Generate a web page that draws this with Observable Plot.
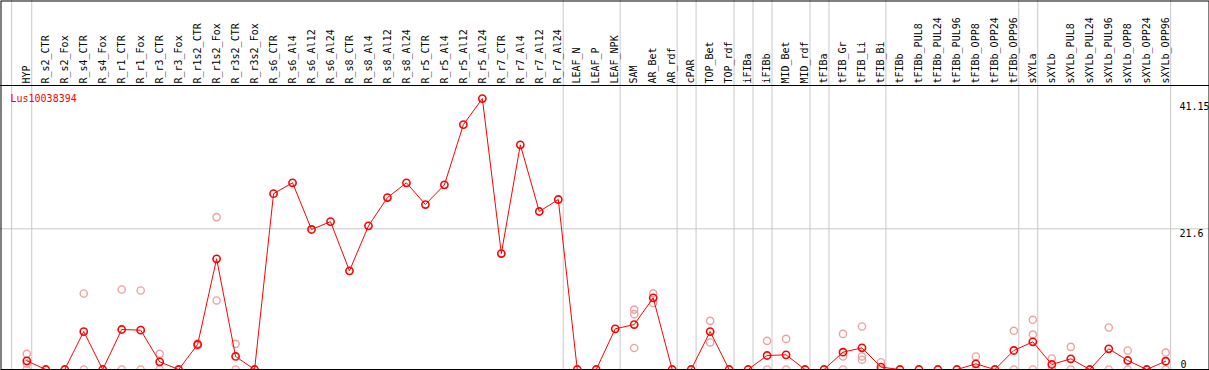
<!DOCTYPE html>
<html>
<head>
<meta charset="utf-8">
<script src="https://cdn.jsdelivr.net/npm/d3@7"></script>
<script src="https://cdn.jsdelivr.net/npm/@observablehq/plot@0.6"></script>
<style>
  html, body { margin: 0; padding: 0; background: #fff; }
  svg { display: block; }
</style>
</head>
<body>
<div id="chart"></div>
<script>
const title = "Lus10038394";

const categories = [
  "HYP","R_s2_CTR","R_s2_Fox","R_s4_CTR","R_s4_Fox","R_r1_CTR","R_r1_Fox","R_r3_CTR","R_r3_Fox",
  "R_r1s2_CTR","R_r1s2_Fox","R_r3s2_CTR","R_r3s2_Fox","R_s6_CTR","R_s6_Al4","R_s6_Al12","R_s6_Al24",
  "R_s8_CTR","R_s8_Al4","R_s8_Al12","R_s8_Al24","R_r5_CTR","R_r5_Al4","R_r5_Al12","R_r5_Al24",
  "R_r7_CTR","R_r7_Al4","R_r7_Al12","R_r7_Al24","LEAF_N","LEAF_P","LEAF_NPK","SAM","AR_Bet","AR_rdf",
  "cPAR","TOP_Bet","TOP_rdf","iFIBa","iFIBb","MID_Bet","MID_rdf","tFIBa","tFIB_Gr","tFIB_Li","tFIB_Bi",
  "tFIBb","tFIBb_PUL8","tFIBb_PUL24","tFIBb_PUL96","tFIBb_OPP8","tFIBb_OPP24","tFIBb_OPP96",
  "sXYLa","sXYLb","sXYLb_PUL8","sXYLb_PUL24","sXYLb_PUL96","sXYLb_OPP8","sXYLb_OPP24","sXYLb_OPP96"
];

const means = [
  1.33, 0, 0, 5.83, 0, 6.14, 6.04, 1.18, 0,
  3.84, 17.0, 2.0, 0, 27.0, 28.67, 21.5, 22.7,
  15.15, 22.06, 26.4, 28.67, 25.33, 28.35, 37.6, 41.6,
  17.8, 34.5, 24.26, 26.1, 0, 0, 6.25, 6.9, 11.0, 0,
  0, 5.83, 0, 0, 2.15, 2.25, 0, 0, 2.66, 3.33, 0.36,
  0, 0, 0, 0, 0.87, 0, 2.92,
  4.25, 0.77, 1.64, 0, 3.18, 1.38, 0, 1.27
];

const replicates = [
  [2.4, 0.9, 0], [], [], [11.67, 0], [], [12.28, 0], [12.13, 0], [2.4, 0], [],
  [3.7, 4.0], [23.4, 10.6], [3.94, 0], [], [], [], [], [],
  [], [], [], [], [], [], [], [],
  [], [], [], [], [], [], [], [9.2, 8.5, 3.3], [11.7, 10.2], [],
  [], [7.47, 4.15], [], [], [4.4, 0], [4.7, 0], [], [], [5.47, 2.0, 0], [6.6, 2.0, 1.5], [1.12, 0],
  [], [], [], [], [2.0, 0], [], [5.94, 0],
  [7.63, 5.37, 0], [1.69, 0], [3.48, 0], [], [6.45, 0], [2.92, 0], [], [2.6, 0]
];

// last category of each group (vertical separators follow these)
const groupEnds = ["HYP","R_r7_Al24","LEAF_NPK","AR_rdf","cPAR","TOP_rdf","iFIBa","iFIBb",
  "MID_rdf","tFIBa","tFIB_Bi","tFIBb_OPP96","sXYLa","sXYLb_OPP96"];

const yTicks = [41.15, 21.6];
const yZeroTick = [0];
const gridY = [21.6];

const meanData = means.map((v, i) => ({i, v}));
const repData = replicates.flatMap((arr, i) => arr.map(v => ({i, v})));
const seps = [-0.8, ...groupEnds.map(n => categories.indexOf(n) + 0.26)];

const font = "DejaVu Sans Mono";

const chart = Plot.plot({
  width: 1209,
  height: 370,
  marginTop: 85,
  marginBottom: 1,
  marginLeft: 0,
  marginRight: 0,
  style: {fontFamily: font, fontSize: "10px", background: "#fff", color: "#000"},
  x: {type: "linear", domain: [0, categories.length - 1], range: [26.3, 1165.2], label: null},
  y: {type: "linear", domain: [0, 41.15], range: [369, 101], label: null},
  marks: [
    Plot.ruleX(seps, {stroke: "#c8c8c8", strokeWidth: 1, insetTop: -85, insetBottom: -1}),
    Plot.ruleY(gridY, {stroke: "#c8c8c8", strokeWidth: 1}),
    Plot.dot(repData, {x: "i", y: "v", r: 3.6, stroke: "#f0a0a0", strokeWidth: 1.4, fill: "none"}),
    Plot.line(meanData, {x: "i", y: "v", stroke: "#ff0000", strokeWidth: 1}),
    Plot.dot(meanData, {x: "i", y: "v", r: 3.6, stroke: "#ff0000", strokeWidth: 1.6, fill: "none"}),
    Plot.frame({stroke: "#000", insetTop: -84.5, insetLeft: 0.5, insetRight: 0.5}),
    Plot.frame({stroke: "#000", anchor: "top"}),
    Plot.axisX(d3.range(categories.length), {
      anchor: "top", tickSize: 0, tickPadding: 2, tickRotate: -90, label: null,
      textAnchor: "start", lineAnchor: "middle",
      tickFormat: i => categories[i], fontSize: 10, fill: "#000"
    }),
    Plot.axisY(yTicks, {
      anchor: "right", tickSize: 0, tickPadding: 0, dx: -30, dy: 1, label: null,
      textAnchor: "start", lineAnchor: "top", tickFormat: d => String(d), fontSize: 10, fill: "#000"
    }),
    Plot.axisY(yZeroTick, {
      anchor: "right", tickSize: 0, tickPadding: 0, dx: -29, dy: -2, label: null,
      textAnchor: "start", lineAnchor: "bottom", tickFormat: d => String(d), fontSize: 10, fill: "#000"
    }),
    Plot.text([title], {frameAnchor: "top-left", dx: 10, dy: 9, fill: "#ff0000", textAnchor: "start", fontSize: 10})
  ]
});

document.getElementById("chart").appendChild(chart);
</script>
</body>
</html>
